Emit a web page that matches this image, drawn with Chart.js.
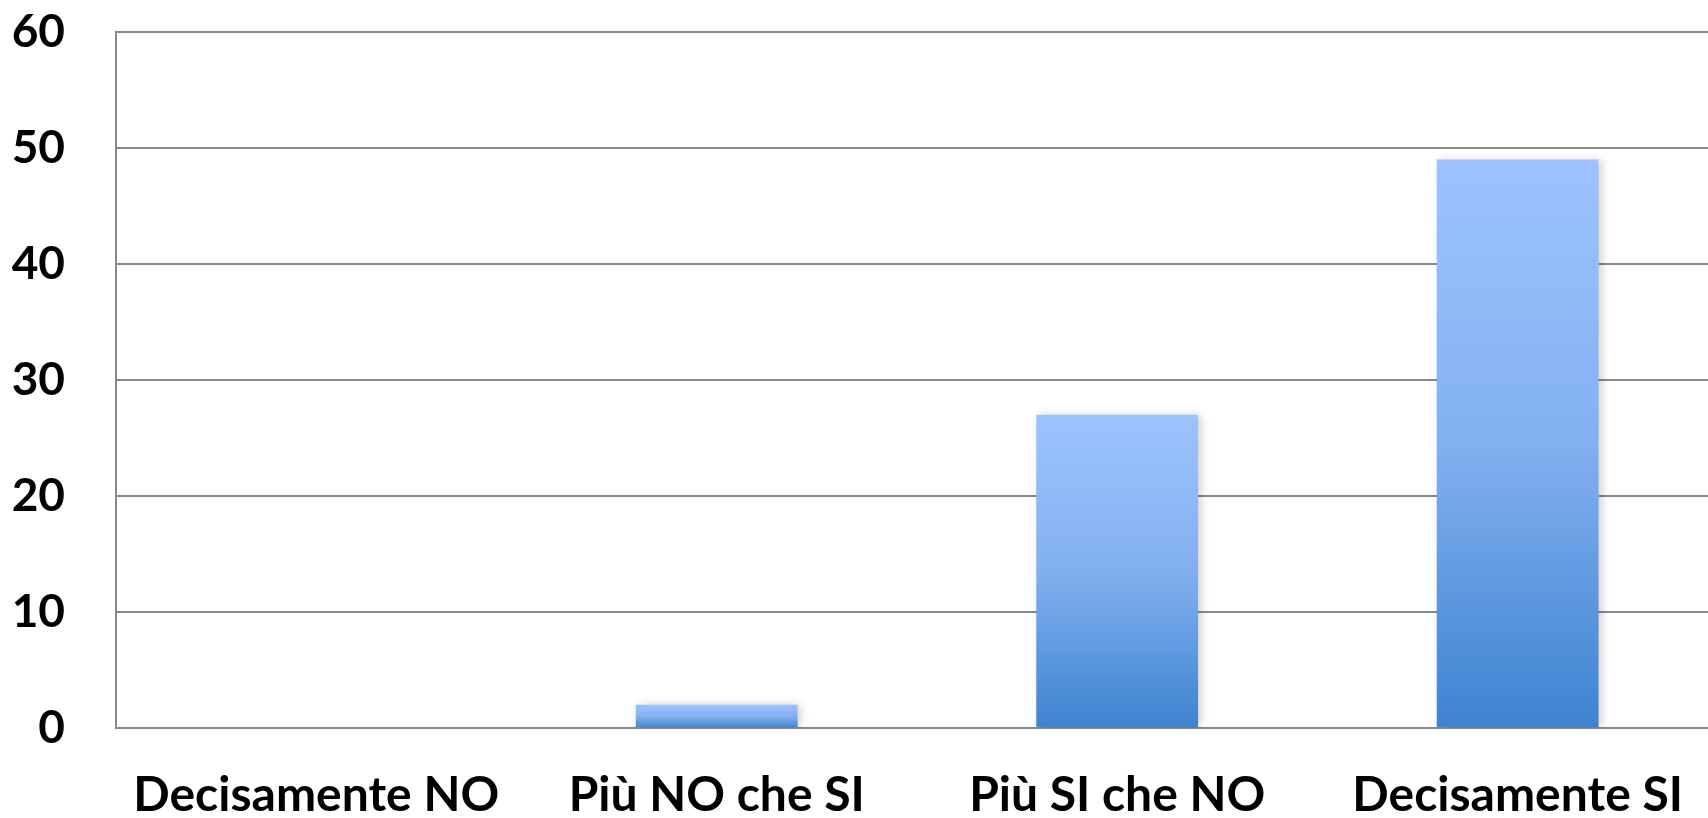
<!DOCTYPE html>
<html>
<head>
<meta charset="utf-8">
<script src="https://cdn.jsdelivr.net/npm/chart.js@4/dist/chart.umd.min.js"></script>
<style>
  html, body { margin: 0; padding: 0; background: #fff; overflow: hidden; }
  #wrap { position: absolute; left: 0; top: 0; width: 1722px; height: 818px; }
</style>
</head>
<body>
<div id="wrap"><canvas id="myChart"></canvas></div>
<script>
// categories and values
const categories = ["Decisamente NO", "Più NO che SI", "Più SI che NO", "Decisamente SI"];
const answers = [0, 2, 27, 49];
const yTicks = [0, 10, 20, 30, 40, 50, 60];

function barGradient(context) {
  const chart = context.chart;
  if (!chart.chartArea) return '#7fb0f0';
  const y = chart.scales.y;
  const top = y.getPixelForValue(answers[context.dataIndex]);
  const bottom = y.getPixelForValue(0);
  if (bottom - top < 1) return '#7fb0f0';
  const g = chart.ctx.createLinearGradient(0, top, 0, bottom);
  g.addColorStop(0, '#9dc3ff');
  g.addColorStop(0.5, '#82b0f0');
  g.addColorStop(1, '#3d83d0');
  return g;
}

// soft shadow to the right of the bars
const barShadow = {
  id: 'barShadow',
  beforeDatasetsDraw(chart) {
    const ctx = chart.ctx;
    ctx.save();
    ctx.shadowColor = 'rgba(0,0,0,0.18)';
    ctx.shadowBlur = 8;
    ctx.shadowOffsetX = 3;
    ctx.shadowOffsetY = 0;
  },
  afterDatasetsDraw(chart) {
    chart.ctx.restore();
  }
};

const data = {
  labels: categories,
  datasets: [{
    data: answers,
    backgroundColor: barGradient,
    borderWidth: 0,
    categoryPercentage: 1,
    barPercentage: 0.404
  }]
};

const config = {
  type: 'bar',
  data: data,
  plugins: [barShadow],
  options: {
    responsive: true,
    maintainAspectRatio: false,
    animation: false,
    layout: { padding: { top: 32, left: 0, right: 0, bottom: 0 } },
    plugins: {
      legend: { display: false },
      tooltip: { enabled: false }
    },
    scales: {
      x: {
        grid: { display: false, drawTicks: false },
        border: { display: false },
        ticks: {
          color: '#000',
          padding: 39,
          maxRotation: 0,
          autoSkip: false,
          font: { family: 'Lato', weight: 'bold', size: 48 }
        },
        afterFit: s => { s.height = 90; }
      },
      y: {
        min: 0,
        max: 60,
        afterBuildTicks: s => { s.ticks = yTicks.map(v => ({ value: v })); },
        grid: { color: '#888', lineWidth: 2, drawTicks: false },
        border: { display: true, color: '#888', width: 2 },
        ticks: {
          color: '#000',
          padding: 51,
          font: { family: 'Lato', weight: 'bold', size: 46 }
        },
        afterFit: s => {
          s.width = 116;
          // the big tick padding should not push the plot down
          s.paddingTop = 0;
          s.paddingBottom = 0;
        }
      }
    }
  }
};

const ctx = document.getElementById('myChart');
new Chart(ctx, config);
</script>
</body>
</html>
